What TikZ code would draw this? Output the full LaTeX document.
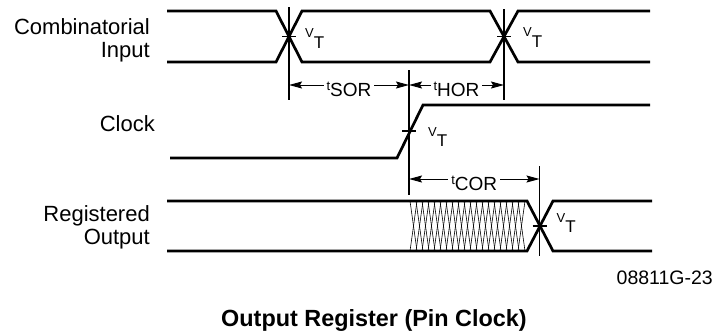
\documentclass[tikz,border=0pt]{standalone}
\usepackage{fontspec}
\setmainfont{Liberation Sans}
\usetikzlibrary{calc,arrows.meta,positioning}

\newcommand{\vt}{{\fontsize{13}{13}\selectfont V}\raisebox{-10.5pt}{\fontsize{17}{17}\selectfont T}}
\newcommand{\tsub}[1]{{\fontsize{13}{13}\selectfont t}\raisebox{-6.3pt}{\fontsize{19}{19}\selectfont #1}}

\begin{document}
\begin{tikzpicture}[x=1pt,y=-1pt,
    wave/.style={line width=2.7pt},
    marker/.style={line width=1.2pt},
    hatch/.style={line width=0.6pt},
    dim/.style={line width=1pt,{Stealth[length=13pt,width=7pt,inset=2pt]}-{Stealth[length=13pt,width=7pt,inset=2pt]}},
    lbl/.style={font=\fontsize{22}{22}\selectfont,anchor=base east,inner sep=0pt},
    vlbl/.style={anchor=base west,inner sep=0pt},
    tlbl/.style={fill=white,inner xsep=3pt,inner ysep=0pt,anchor=base,yshift=-5.4pt}]
        \useasboundingbox (0,0) rectangle (717,335);
        \draw[wave] (167,11) -- (276,11) -- (302,62) -- (490,62) -- (518,11) -- (650,11);
        \draw[wave] (167,62) -- (276,62) -- (302,11) -- (490,11) -- (518,62) -- (650,62);
        \draw[wave] (170,158) -- (397,158) -- (423,105) -- (650,105);
        \foreach \x in {410,416,...,518} {
            \draw[hatch] (\x,201) -- (\x+7,251);
            \draw[hatch] (\x,251) -- (\x+7,201);
        }
        \draw[wave] (167,201) -- (527,201) -- (553,251) -- (652,251);
        \draw[wave] (167,251) -- (527,251) -- (553,201) -- (652,201);
        \coordinate (in1) at (289,36.5);
        \coordinate (in2) at (504,36.5);
        \coordinate (clk) at (409,131);
        \coordinate (out) at (539.5,226);
        \draw[marker] (in1 |- 0,7) -- (in1 |- 0,100);
        \draw[marker] (in2 |- 0,9) -- (in2 |- 0,100);
        \draw[marker] (clk |- 0,70) -- (clk |- 0,195);
        \draw[marker] (out |- 0,166) -- (out |- 0,256);
        \foreach \c in {in1,in2,clk,out}
            \draw[marker] ($(\c)+(-7,0)$) -- ($(\c)+(7,0)$);
        \node[vlbl] (vt1) at ($(in1)+(16,1)$) {\vt};
        \node[vlbl] (vt2) at ($(in2)+(19,0)$) {\vt};
        \node[vlbl] (vt3) at ($(clk)+(19,5)$) {\vt};
        \node[vlbl] (vt4) at ($(out)+(17,-4)$) {\vt};
        \coordinate (sor1) at (in1 |- 0,85);
        \coordinate (sor2) at (clk |- 0,85);
        \coordinate (hor2) at (in2 |- 0,85);
        \coordinate (cor1) at (clk |- 0,179);
        \coordinate (cor2) at (out |- 0,179);
        \draw[dim] (sor1) -- node[tlbl] (tsor) {\tsub{SOR}} (sor2);
        \draw[dim] (sor2) -- node[tlbl] (thor) {\tsub{HOR}} (hor2);
        \draw[dim] (cor1) -- node[tlbl] (tcor) {\tsub{COR}} (cor2);
        \node[lbl] (comb) at (150,34.5) {Combinatorial};
        \node[lbl] (input) at (150,57) {Input};
        \node[lbl] (clock) at (155,131.7) {Clock};
        \node[lbl] (reg) at (150,221.5) {Registered};
        \node[lbl] (output) at (150,244) {Output};
        \node[anchor=base east,inner sep=0pt,font=\fontsize{19.5}{19}\selectfont] (code) at (713,284) {08811G-23};
        \node[anchor=base,inner sep=0pt,font=\fontsize{23.4}{22}\bfseries] (title) at (374,326) {Output Register (Pin Clock)};
\end{tikzpicture}
\end{document}
